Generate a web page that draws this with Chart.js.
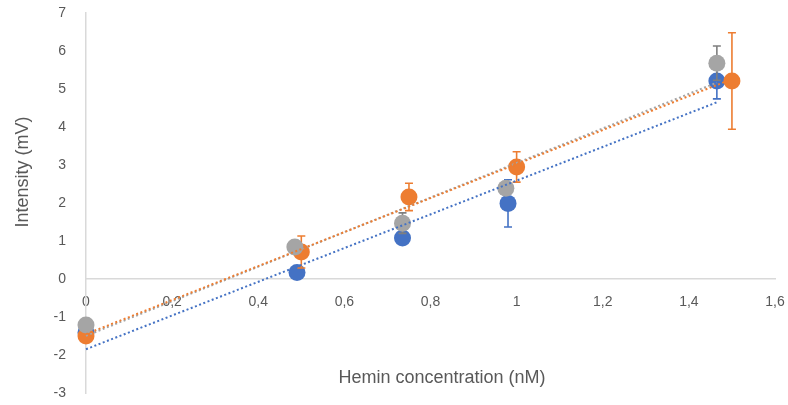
<!DOCTYPE html>
<html><head><meta charset="utf-8">
<script src="https://cdn.jsdelivr.net/npm/chart.js@4"></script>
<style>html,body{margin:0;padding:0;background:#fff}#wrap{width:788px;height:405px;position:relative}</style>
</head><body><div id="wrap"><canvas id="c"></canvas></div>
<script>
const blueX = [0, 0.49, 0.735, 0.98, 1.465];
const blueY = [-1.41, 0.17, 1.08, 1.99, 5.21];
const blueErr = [0.1, 0.1, 0.1, 0.62, 0.47];
const orangeX = [0, 0.5, 0.75, 1.0, 1.5];
const orangeY = [-1.5, 0.71, 2.16, 2.95, 5.21];
const orangeErr = [0.1, 0.42, 0.36, 0.4, 1.27];
const grayX = [0, 0.485, 0.735, 0.975, 1.465];
const grayY = [-1.21, 0.84, 1.47, 2.39, 5.68];
const grayErr = [0.1, 0.1, 0.27, 0.1, 0.45];
const xTickLabels = ['0','0,2','0,4','0,6','0,8','1','1,2','1,4','1,6'];
const yTickLabels = ['-3','-2','-1','0','1','2','3','4','5','6','7'];
const xTitle = 'Hemin concentration (nM)';
const yTitle = 'Intensity (mV)';

const BLUE = '#4472C4', ORANGE = '#ED7D31', GRAY = '#A5A5A5';
const FONT = "'Liberation Sans', Arial, sans-serif";

function pts(xs, ys){ return xs.map((x,i)=>({x, y: ys[i]})); }
function trend(xs, ys){
  const n = xs.length;
  const mx = xs.reduce((a,b)=>a+b,0)/n, my = ys.reduce((a,b)=>a+b,0)/n;
  let sxx=0, sxy=0;
  for(let i=0;i<n;i++){ sxx+=(xs[i]-mx)**2; sxy+=(xs[i]-mx)*(ys[i]-my); }
  const b = sxy/sxx, a = my - b*mx;
  const x0 = Math.min(...xs), x1 = Math.max(...xs);
  return [{x:x0, y:a+b*x0},{x:x1, y:a+b*x1}];
}
function pointSet(label, xs, ys, errs, color, errColor, order){
  return {label, data: pts(xs, ys), errors: errs, errorColor: errColor,
    backgroundColor: color, borderColor: color, pointRadius: 8.5, pointHoverRadius: 8.5,
    borderWidth: 0, showLine: false, clip: false, order};
}
function trendSet(xs, ys, color){
  return {type:'line', data: trend(xs, ys), borderColor: color, borderWidth: 2,
    borderDash: [2, 2.5], pointRadius: 0, showLine: true, fill: false, clip: false, order: 0};
}

const errorBarPlugin = {
  id: 'errbars',
  beforeDatasetDraw(chart, args){
    const ds = chart.data.datasets[args.index];
    if(!ds.errors) return;
    const ctx = chart.ctx, xs = chart.scales.x, ys = chart.scales.y;
    ctx.save();
    ctx.strokeStyle = ds.errorColor; ctx.lineWidth = 1.6;
    ds.data.forEach((p,i)=>{
      const e = ds.errors[i];
      const px = xs.getPixelForValue(p.x);
      const top = ys.getPixelForValue(p.y+e), bot = ys.getPixelForValue(p.y-e);
      ctx.beginPath();
      ctx.moveTo(px, top); ctx.lineTo(px, bot);
      ctx.moveTo(px-4, top); ctx.lineTo(px+4, top);
      ctx.moveTo(px-4, bot); ctx.lineTo(px+4, bot);
      ctx.stroke();
    });
    ctx.restore();
  }
};
const titlePlugin = {
  id: 'titles',
  afterDraw(chart){
    const ctx = chart.ctx;
    ctx.save();
    ctx.fillStyle = '#595959';
    ctx.font = '18px ' + FONT;
    ctx.textAlign = 'center'; ctx.textBaseline = 'middle';
    ctx.fillText(xTitle, 442, 378);
    ctx.translate(23, 172); ctx.rotate(-Math.PI/2);
    ctx.fillText(yTitle, 0, 0);
    ctx.restore();
  }
};

new Chart(document.getElementById('c'), {
  type: 'scatter',
  data: { datasets: [
    trendSet(blueX, blueY, BLUE),
    trendSet(orangeX, orangeY, ORANGE),
    trendSet(grayX, grayY, GRAY),
    pointSet('Series1', blueX, blueY, blueErr, BLUE, BLUE, 3),
    pointSet('Series2', orangeX, orangeY, orangeErr, ORANGE, ORANGE, 2),
    pointSet('Series3', grayX, grayY, grayErr, GRAY, '#7F7F7F', 1)
  ]},
  options: {
    responsive: true, maintainAspectRatio: false, animation: false,
    layout: { padding: { left: 0, right: 13, top: 13, bottom: 12 } },
    plugins: { legend: { display: false }, tooltip: { enabled: false } },
    scales: {
      x: { type: 'linear', position: { y: 0 }, min: 0, max: 1.6,
        afterFit: s => { s.paddingRight = 0; s.paddingLeft = 0; },
        grid: { display: false }, border: { display: true, color: '#D9D9D9', width: 1.5 },
        ticks: { stepSize: 0.2, padding: 7, color: '#595959', font: { family: FONT, size: 14 },
          maxRotation: 0, autoSkip: false, callback: (v, i) => xTickLabels[i] } },
      y: { type: 'linear', position: 'left', min: -3, max: 7,
        afterFit: s => { s.width = 86; s.paddingTop = 0; s.paddingBottom = 0; },
        grid: { display: false }, border: { display: true, color: '#D9D9D9', width: 1.5 },
        ticks: { stepSize: 1, padding: 12, color: '#595959', font: { family: FONT, size: 14 },
          callback: (v, i) => yTickLabels[i] } }
    }
  },
  plugins: [errorBarPlugin, titlePlugin]
});
</script></body></html>
